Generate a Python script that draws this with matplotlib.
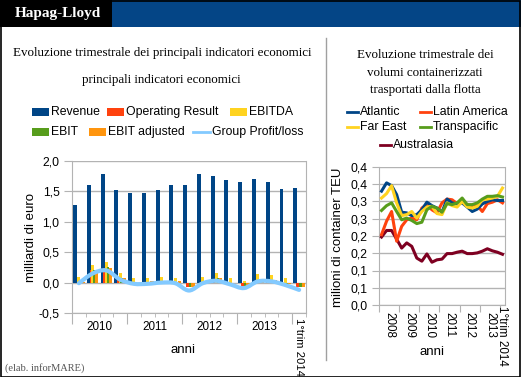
import matplotlib.pyplot as plt
import numpy as np
from matplotlib.patches import Rectangle, PathPatch
from matplotlib.path import Path
from matplotlib.lines import Line2D

# --- dati: indicatori economici trimestrali (miliardi di euro), 1Q2010 - 1Q2014
revenue = [1.27, 1.61, 1.78, 1.53, 1.48, 1.48, 1.53, 1.60, 1.60, 1.79, 1.76, 1.68, 1.65, 1.70, 1.66, 1.54, 1.55]
op_result = [0.00, 0.21, 0.24, 0.07, 0.00, 0.00, 0.02, 0.00, -0.08, 0.00, 0.06, 0.00, -0.06, 0.04, 0.04, -0.01, -0.07]
ebitda = [0.09, 0.29, 0.34, 0.15, 0.07, 0.07, 0.10, 0.08, 0.00, 0.09, 0.15, 0.08, 0.02, 0.14, 0.12, 0.07, 0.00]
ebit = [0.01, 0.21, 0.26, 0.07, -0.01, 0.00, 0.02, 0.00, -0.08, 0.00, 0.07, -0.01, -0.05, 0.05, 0.05, -0.02, -0.07]
ebit_adj = [0.01, 0.21, 0.24, 0.07, 0.00, 0.02, 0.02, 0.02, -0.08, 0.01, 0.08, 0.00, -0.05, 0.06, 0.05, -0.02, -0.07]
profit = [-0.01, 0.15, 0.20, 0.05, -0.02, -0.02, 0.00, -0.01, -0.13, -0.01, 0.03, -0.03, -0.09, 0.02, 0.02, -0.04, -0.12]
year_labels = ["2010", "2011", "2012", "2013"]

# --- dati: volumi trasportati (milioni di TEU), 1Q2008 - 1Q2014
atlantic = [0.330, 0.354, 0.346, 0.320, 0.269, 0.267, 0.259, 0.262, 0.276, 0.298, 0.288, 0.281, 0.269,
            0.307, 0.296, 0.293, 0.296, 0.284, 0.271, 0.278, 0.293, 0.300, 0.305, 0.303, 0.303]
latin_america = [0.204, 0.243, 0.271, 0.185, 0.228, 0.247, 0.252, 0.247, 0.281, 0.291, 0.276, 0.267, 0.296,
                 0.307, 0.305, 0.294, 0.300, 0.291, 0.284, 0.288, 0.271, 0.294, 0.298, 0.305, 0.296]
far_east = [0.310, 0.323, 0.346, 0.296, 0.259, 0.262, 0.271, 0.252, 0.271, 0.284, 0.286, 0.265, 0.262,
            0.296, 0.288, 0.284, 0.300, 0.284, 0.281, 0.286, 0.305, 0.307, 0.310, 0.315, 0.339]
transpacific = [0.274, 0.288, 0.296, 0.271, 0.247, 0.252, 0.245, 0.236, 0.240, 0.276, 0.286, 0.281, 0.269,
                0.294, 0.291, 0.296, 0.310, 0.291, 0.291, 0.296, 0.307, 0.315, 0.315, 0.317, 0.313]
australasia = [0.197, 0.216, 0.216, 0.191, 0.165, 0.180, 0.170, 0.136, 0.127, 0.148, 0.124, 0.131, 0.133,
               0.149, 0.149, 0.153, 0.156, 0.149, 0.149, 0.151, 0.156, 0.163, 0.157, 0.153, 0.147]
vol_years = ["2008", "2009", "2010", "2011", "2012", "2013"]
right_ylabels = ["0,0", "0,1", "0,1", "0,2", "0,2", "0,3", "0,3", "0,4", "0,4"]

W, H = 521, 377
fig = plt.figure(figsize=(W / 100, H / 100), dpi=100)
plt.rcParams['font.family'] = ['Liberation Sans', 'DejaVu Sans']
SERIF = ['Liberation Serif', 'DejaVu Serif']
GRID = '#b3b3b3'
FS = 8.4  # etichette assi e legenda


def fx(x):
    return x / W


def fy(y):
    return 1 - y / H


def rect(x, y, w, h, color, **kw):
    fig.patches.append(Rectangle((fx(x), fy(y + h)), w / W, h / H, transform=fig.transFigure,
                                 facecolor=color, edgecolor='none', **kw))


# intestazione
rect(0, 0, 112, 27, 'black')
rect(112, 0, 409, 27, '#044586')
fig.text(fx(15), fy(14), "Hapag-Lloyd", color='white', fontsize=11, fontweight='bold',
         family=SERIF, va='center', ha='left')
fig.patches.append(Rectangle((0.001, 0.001), 0.997, 0.997, transform=fig.transFigure,
                             facecolor='none', edgecolor='black', lw=1.2))
fig.add_artist(Line2D([fx(326), fx(326)], [fy(38), fy(360)], color='#a0a0a0', lw=1))

# titoli
fig.text(fx(162), fy(53), "Evoluzione trimestrale dei principali indicatori economici",
         family=SERIF, fontsize=9.4, ha='center', va='center')
fig.text(fx(161), fy(80), "principali indicatori economici", family=SERIF, fontsize=9.4,
         ha='center', va='center')
for i, t in enumerate(["Evoluzione trimestrale dei", "volumi containerizzati", "trasportati dalla flotta"]):
    fig.text(fx(425), fy(55 + i * 17.5), t, family=SERIF, fontsize=9.4, ha='center', va='center')
fig.text(fx(5), fy(368), "(elab. inforMARE)", family=SERIF, fontsize=7.5, color='#555555',
         ha='left', va='center')


def legend_box(x, y, label, color):
    rect(x, y - 4, 17, 8, color)
    fig.text(fx(x + 19), fy(y), label, fontsize=8.8, ha='left', va='center')


def legend_line(x, y, label, color, w=17, lw=2):
    fig.add_artist(Line2D([fx(x), fx(x + w)], [fy(y), fy(y)], color=color, lw=lw))
    fig.text(fx(x + w + 2), fy(y), label, fontsize=8.8, ha='left', va='center')


c_rev, c_op, c_ebitda, c_ebit, c_adj, c_prof = '#004586', '#ff420e', '#ffd320', '#579d1c', '#ff950e', '#83caff'
legend_box(32, 112, "Revenue", c_rev)
legend_box(107, 112, "Operating Result", c_op)
legend_box(230, 112, "EBITDA", c_ebitda)
legend_box(32, 132, "EBIT", c_ebit)
legend_box(89, 132, "EBIT adjusted", c_adj)
legend_line(193, 132, "Group Profit/loss", c_prof)

legend_line(347, 112, "Atlantic", '#004586', w=11)
legend_line(420, 112, "Latin America", '#ff420e', w=11)
legend_line(347, 127, "Far East", '#ffd320', w=11)
legend_line(420, 127, "Transpacific", '#579d1c', w=11)
legend_line(380, 145, "Australasia", '#7e0021', w=11)

# --- grafico sinistro
ax1 = fig.add_axes([fx(72), fy(313), 234 / W, 152 / H])
n = len(revenue)
x = np.arange(n) + 0.5
ax1.bar(x - 0.28, revenue, width=0.29, color=c_rev, zorder=3)
ax1.bar(x - 0.12, op_result, width=0.2, color=c_op, zorder=3)
ax1.bar(x + 0.0, ebitda, width=0.22, color=c_ebitda, zorder=3)
ax1.bar(x + 0.12, ebit, width=0.2, color=c_ebit, zorder=3)
ax1.bar(x + 0.30, ebit_adj, width=0.25, color=c_adj, zorder=3)

# linea smussata (spline Catmull-Rom) per Group Profit/loss
pts = np.column_stack([x, profit])
verts = [pts[0]]
codes = [Path.MOVETO]
for i in range(n - 1):
    p0 = pts[max(i - 1, 0)]
    p1, p2 = pts[i], pts[i + 1]
    p3 = pts[min(i + 2, n - 1)]
    verts += [p1 + (p2 - p0) / 6, p2 - (p3 - p1) / 6, p2]
    codes += [Path.CURVE4] * 3
ax1.add_patch(PathPatch(Path(verts, codes), facecolor='none', edgecolor=c_prof, lw=3,
                        capstyle='round', joinstyle='round', zorder=4))

ax1.set_xlim(0, n)
ax1.set_ylim(-0.5, 2.0)
yt = np.arange(-0.5, 2.01, 0.5)
ax1.set_yticks(yt)
ax1.set_yticklabels([f"{v:.1f}".replace('.', ',') for v in yt], fontsize=FS + 0.4)
ax1.yaxis.grid(True, color=GRID, lw=1, zorder=0)
ax1.set_xticks(np.arange(0, n, 4))
ax1.set_xticks(np.arange(n + 1), minor=True)
ax1.set_xticklabels([])
ax1.tick_params(axis='x', which='major', length=8, color=GRID)
ax1.tick_params(axis='x', which='minor', length=3, color=GRID)
ax1.tick_params(axis='y', length=6, color=GRID, pad=3)
ax1.spines['top'].set_visible(False)
for s in ['left', 'right', 'bottom']:
    ax1.spines[s].set_color(GRID)
for k, lab in enumerate(year_labels):
    ax1.text(4 * k + 2, -0.09, lab, transform=ax1.get_xaxis_transform(), ha='center', va='center',
             fontsize=FS)
ax1.text(n - 0.5, -0.03, "1°trim 2014", transform=ax1.get_xaxis_transform(), ha='center', va='top',
         rotation=-90, fontsize=FS - 0.3)
fig.text(fx(183), fy(350), "anni", fontsize=9.5, ha='center', va='center')
fig.text(fx(31), fy(237), "milliardi di euro", fontsize=9.5, ha='center', va='center', rotation=90)

# --- grafico destro
ax2 = fig.add_axes([fx(379), fy(305), 126 / W, 138 / H])
m = len(atlantic)
xv = np.arange(m) + 0.5
for serie, col in [(australasia, '#7e0021'), (latin_america, '#ff420e'), (atlantic, '#004586'),
                   (far_east, '#ffd320'), (transpacific, '#579d1c')]:
    ax2.plot(xv, serie, color=col, lw=2.2, zorder=3)
ax2.set_xlim(0, m)
ax2.set_ylim(0, 0.4)
ax2.set_yticks(np.arange(0, 0.401, 0.05))
ax2.set_yticklabels(right_ylabels, fontsize=FS + 0.4)
ax2.yaxis.grid(True, color=GRID, lw=1, zorder=0)
ax2.set_xticks(np.arange(0, m, 4))
ax2.set_xticklabels([])
ax2.tick_params(axis='x', length=5, color=GRID)
ax2.tick_params(axis='y', length=5, color=GRID, pad=3)
ax2.spines['top'].set_visible(False)
for s in ['left', 'right', 'bottom']:
    ax2.spines[s].set_color(GRID)
for k, lab in enumerate(vol_years):
    ax2.text(4 * k + 2, -0.05, lab, transform=ax2.get_xaxis_transform(), ha='center', va='top',
             rotation=-90, fontsize=FS)
ax2.text(m - 0.5, -0.01, "1°trim 2014", transform=ax2.get_xaxis_transform(), ha='center', va='top',
         rotation=-90, fontsize=FS)
fig.text(fx(432), fy(352), "anni", fontsize=9.5, ha='center', va='center')
fig.text(fx(338), fy(237), "milioni di container TEU", fontsize=9.5, ha='center', va='center',
         rotation=90)

fig.savefig('out.png', dpi=100)
